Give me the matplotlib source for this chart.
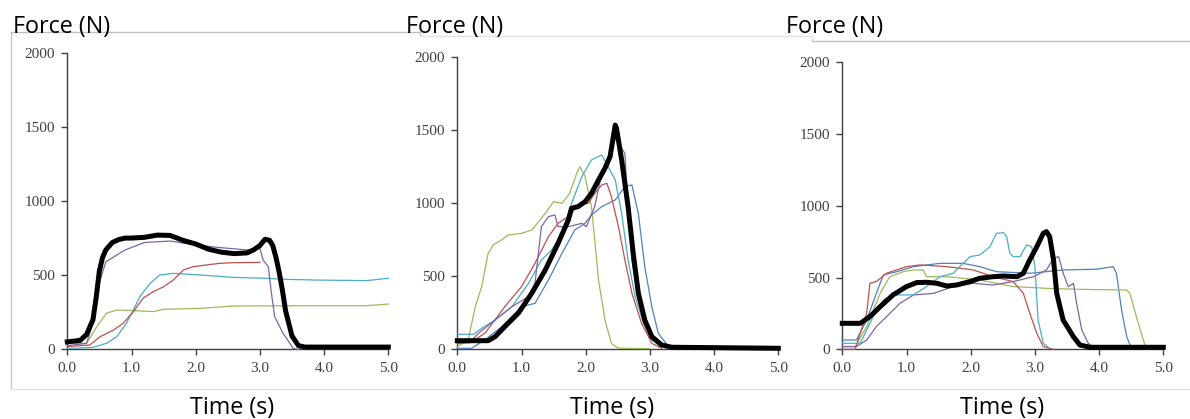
import matplotlib
matplotlib.use('Agg')
import matplotlib.pyplot as plt
from matplotlib.lines import Line2D

# ---- colours (Excel 2010 palette) ----
C_BLUE = '#4F81BD'
C_RED = '#C0504D'
C_GREEN = '#9BBB59'
C_PURPLE = '#8064A2'
C_CYAN = '#4BACC6'

# ============================================================
# PANEL 1
# ============================================================
p1_black_t = [0, 0.2, 0.3, 0.4, 0.45, 0.5, 0.55, 0.6, 0.7, 0.8, 0.9, 1.0, 1.2, 1.4, 1.6, 1.8,
              2.0, 2.2, 2.4, 2.6, 2.8, 2.9, 3.0, 3.08, 3.15, 3.2, 3.25, 3.3, 3.35, 3.4, 3.5,
              3.6, 3.7, 4.0, 5.0]
p1_black_f = [50, 60, 100, 200, 350, 530, 620, 670, 720, 740, 750, 750, 755, 770, 768, 735,
              710, 675, 655, 645, 650, 670, 700, 742, 735, 700, 620, 520, 400, 260, 90,
              25, 15, 15, 15]

p1_purple_t = [0, 0.3, 0.4, 0.5, 0.6, 0.9, 1.2, 1.6, 2.0, 2.4, 2.8, 3.0, 3.05, 3.13, 3.18,
               3.23, 3.36, 3.52, 3.6]
p1_purple_f = [25, 40, 180, 450, 590, 670, 720, 730, 703, 685, 670, 680, 602, 557, 377,
               220, 108, 5, 0]

p1_red_t = [0, 0.35, 0.51, 0.72, 0.87, 1.03, 1.18, 1.34, 1.5, 1.65, 1.81, 1.96, 2.17, 2.38,
            2.59, 3.0]
p1_red_f = [18, 29, 85, 130, 175, 254, 344, 389, 422, 467, 535, 557, 569, 580, 584, 586]

p1_cyan_t = [0, 0.4, 0.61, 0.77, 0.92, 1.03, 1.13, 1.29, 1.44, 1.65, 2.07, 2.59, 3.1, 3.36,
             3.88, 4.66, 5.0]
p1_cyan_f = [5, 13, 40, 85, 175, 265, 355, 445, 501, 512, 501, 485, 479, 472, 467, 463, 479]

p1_green_t = [0, 0.3, 0.46, 0.61, 0.77, 1.03, 1.34, 1.5, 2.07, 2.59, 3.62, 4.66, 5.0]
p1_green_f = [40, 40, 153, 243, 265, 261, 254, 270, 276, 292, 294, 294, 305]

# ============================================================
# PANEL 2
# ============================================================
p2_black_t = [0, 0.48, 0.59, 0.74, 0.95, 1.16, 1.37, 1.57, 1.73, 1.78, 1.88, 1.99, 2.09, 2.2,
              2.3, 2.38, 2.46, 2.48, 2.56, 2.66, 2.74, 2.82, 2.92, 3.03, 3.18, 3.34, 5.0]
p2_black_f = [59, 59, 87, 155, 247, 384, 543, 726, 886, 966, 977, 1011, 1068, 1160,
              1240, 1320, 1536, 1514, 1297, 977, 657, 384, 201, 87, 30, 14, 7]

p2_green_t = [0, 0.17, 0.28, 0.38, 0.48, 0.56, 0.69, 0.79, 1.0, 1.16, 1.37, 1.5, 1.63, 1.75,
              1.86, 1.91, 1.99, 2.09, 2.2, 2.3, 2.4, 2.51, 3.0]
p2_green_f = [18, 64, 292, 429, 657, 715, 749, 783, 794, 817, 931, 1011, 1000, 1068,
              1205, 1251, 1183, 977, 475, 201, 41, 7, 5]

p2_cyan_t = [0, 0.25, 0.38, 0.59, 0.85, 1.11, 1.31, 1.47, 1.63, 1.78, 1.94, 2.09, 2.25, 2.35,
             2.46, 2.56, 2.66, 2.77, 2.9, 3.03, 3.18]
p2_cyan_f = [103, 103, 144, 201, 292, 452, 612, 680, 794, 1000, 1183, 1297, 1331, 1251,
             1160, 931, 612, 361, 178, 64, 18]

p2_red_t = [0, 0.2, 0.43, 0.74, 1.0, 1.21, 1.42, 1.57, 1.73, 1.88, 2.04, 2.14, 2.25, 2.33,
            2.4, 2.51, 2.61, 2.72, 2.87, 3.03, 3.18]
p2_red_f = [41, 45, 110, 292, 429, 589, 772, 863, 909, 989, 1000, 1068, 1126, 1137,
            1046, 840, 612, 384, 178, 41, 7]

p2_purple_t = [0, 0.2, 0.33, 0.59, 0.85, 1.11, 1.21, 1.31, 1.42, 1.52, 1.57, 1.73, 1.94, 2.01,
               2.14, 2.25, 2.35, 2.43, 2.51, 2.61, 2.66, 2.72, 2.82, 2.97, 3.18]
p2_purple_f = [41, 50, 110, 201, 292, 361, 452, 840, 909, 920, 840, 840, 863, 840,
               977, 1205, 1320, 1457, 1411, 1342, 977, 612, 338, 132, 18]

p2_blue_t = [0, 0.22, 0.43, 0.69, 1.0, 1.21, 1.42, 1.63, 1.83, 1.99, 2.09, 2.25, 2.46, 2.61,
             2.72, 2.82, 2.92, 3.03, 3.13, 3.29]
p2_blue_f = [7, 7, 64, 155, 292, 315, 475, 657, 817, 863, 920, 977, 1023, 1114,
             1126, 931, 566, 292, 110, 18]

# ============================================================
# PANEL 3
# ============================================================
p3_black_t = [0, 0.28, 0.43, 0.59, 0.79, 1.0, 1.16, 1.31, 1.47, 1.63, 1.78, 1.99, 2.14, 2.35,
              2.51, 2.72, 2.82, 2.92, 3.03, 3.13, 3.18, 3.23, 3.29, 3.34, 3.44, 3.6, 3.7,
              3.86, 5.0]
p3_black_f = [181, 181, 228, 297, 379, 437, 465, 467, 460, 441, 448, 472, 495, 506,
              511, 506, 530, 623, 715, 808, 820, 785, 623, 390, 204, 88, 30,
              14, 14]

p3_red_t = [0, 0.2, 0.38, 0.43, 0.53, 0.69, 1.0, 1.21, 1.63, 2.04, 2.35, 2.66, 2.82, 2.92,
            3.03, 3.13, 3.29]
p3_red_f = [0, 0, 251, 460, 472, 530, 576, 588, 576, 553, 506, 472, 390, 251,
            111, 19, 0]

p3_blue_t = [0, 0.22, 0.38, 0.53, 0.64, 0.85, 1.11, 1.52, 1.88, 2.14, 2.4, 2.92, 3.18, 3.44,
             3.96, 4.22, 4.27, 4.35, 4.43, 4.51]
p3_blue_f = [65, 65, 204, 390, 518, 541, 576, 599, 599, 576, 541, 530, 541, 553,
             558, 576, 530, 274, 88, 0]

p3_green_t = [0, 0.2, 0.38, 0.59, 0.74, 0.95, 1.11, 1.26, 1.31, 1.63, 2.14, 2.66, 3.18, 3.7,
              4.43, 4.48, 4.58, 4.69, 4.73]
p3_green_f = [19, 19, 158, 390, 506, 541, 553, 553, 506, 506, 483, 437, 425, 418,
              413, 390, 228, 65, 0]

p3_cyan_t = [0, 0.28, 0.48, 0.64, 0.79, 1.11, 1.31, 1.52, 1.73, 1.88, 1.99, 2.14, 2.3, 2.4,
             2.51, 2.56, 2.61, 2.66, 2.77, 2.87, 2.95, 3.0, 3.05, 3.13, 3.23]
p3_cyan_f = [42, 42, 228, 344, 379, 379, 437, 506, 530, 599, 646, 657, 715, 808,
             813, 785, 669, 646, 646, 727, 715, 576, 204, 42, 7]

p3_purple_t = [0, 0.22, 0.38, 0.53, 0.69, 0.9, 1.11, 1.42, 1.73, 2.04, 2.35, 2.66, 2.98, 3.18,
               3.29, 3.37, 3.44, 3.52, 3.6, 3.65, 3.73, 3.83, 3.94]
p3_purple_f = [19, 19, 65, 158, 228, 321, 379, 390, 437, 460, 448, 472, 506, 553,
               634, 646, 530, 437, 460, 321, 135, 42, 7]

x_ticks = [0, 1, 2, 3, 4, 5]
x_tick_labels = ['0.0', '1.0', '2.0', '3.0', '4.0', '5.0']
y_ticks = [0, 500, 1000, 1500, 2000]

panels = [
    [(p1_green_t, p1_green_f, C_GREEN), (p1_cyan_t, p1_cyan_f, C_CYAN),
     (p1_red_t, p1_red_f, C_RED), (p1_purple_t, p1_purple_f, C_PURPLE),
     (p1_black_t, p1_black_f, 'black')],
    [(p2_green_t, p2_green_f, C_GREEN), (p2_blue_t, p2_blue_f, C_BLUE),
     (p2_red_t, p2_red_f, C_RED), (p2_cyan_t, p2_cyan_f, C_CYAN),
     (p2_purple_t, p2_purple_f, C_PURPLE), (p2_black_t, p2_black_f, 'black')],
    [(p3_blue_t, p3_blue_f, C_BLUE), (p3_green_t, p3_green_f, C_GREEN),
     (p3_red_t, p3_red_f, C_RED), (p3_purple_t, p3_purple_f, C_PURPLE),
     (p3_cyan_t, p3_cyan_f, C_CYAN), (p3_black_t, p3_black_f, 'black')],
]

W, H = 1190, 419
fig = plt.figure(figsize=(W / 100, H / 100), dpi=100)


def fx(x):
    return x / W


def fy(y):
    return 1 - y / H


# light gray chart-area frames (pixel coords)
frame_segments = [
    ((11, 32), (11, 389), '#c8c8c8'),
    ((11, 32), (420, 32), '#c0c0c0'),
    ((420, 32), (420, 35), '#c0c0c0'),
    ((420, 36), (812, 36), '#e3e3e3'),
    ((812, 36), (812, 40), '#e3e3e3'),
    ((812, 41), (1190, 41), '#bfbfbf'),
    ((11, 389), (1190, 389), '#e0e0e0'),
]
for (x0, y0), (x1, y1), col in frame_segments:
    fig.add_artist(Line2D([fx(x0), fx(x1)], [fy(y0), fy(y1)], color=col, lw=1.0,
                          transform=fig.transFigure))

# axes boxes: (left px, top px), shared right/bottom geometry
axes_px = [(67.3, 52.7), (457.3, 57.3), (842.3, 62.3)]
ax_w = 321.0
ax_bottom = 349.3

force_pos = [13, 406, 786]
time_pos = [232, 612, 1002]

for i, series in enumerate(panels):
    left, top = axes_px[i]
    ax = fig.add_axes([fx(left), fy(ax_bottom), ax_w / W, (ax_bottom - top) / H])
    for t, f, col in series:
        if col == 'black':
            ax.plot(t, f, color='black', lw=3.6, solid_joinstyle='round', clip_on=False, zorder=5)
        else:
            ax.plot(t, f, color=col, lw=0.9, clip_on=False, zorder=3)
    ax.set_xlim(0, 5)
    ax.set_ylim(0, 2000)
    ax.set_xticks(x_ticks)
    ax.set_xticklabels(x_tick_labels)
    ax.set_yticks(y_ticks)
    for s in ['top', 'right']:
        ax.spines[s].set_visible(False)
    for s in ['left', 'bottom']:
        ax.spines[s].set_color('#404040')
        ax.spines[s].set_linewidth(1.0)
    ax.tick_params(direction='out', length=4.5, width=1.0, color='#404040',
                   labelcolor='#404040', labelsize=11, pad=4.5)
    for lab in ax.get_xticklabels() + ax.get_yticklabels():
        lab.set_fontfamily('Liberation Serif')

    fig.text(fx(force_pos[i]), fy(33), 'Force (N)', fontsize=16.8, family='Open Sans',
             ha='left', va='baseline', color='black')
    fig.text(fx(time_pos[i]), fy(414), 'Time (s)', fontsize=16.8, family='Open Sans',
             ha='center', va='baseline', color='black')

fig.savefig('out.png', dpi=100)
